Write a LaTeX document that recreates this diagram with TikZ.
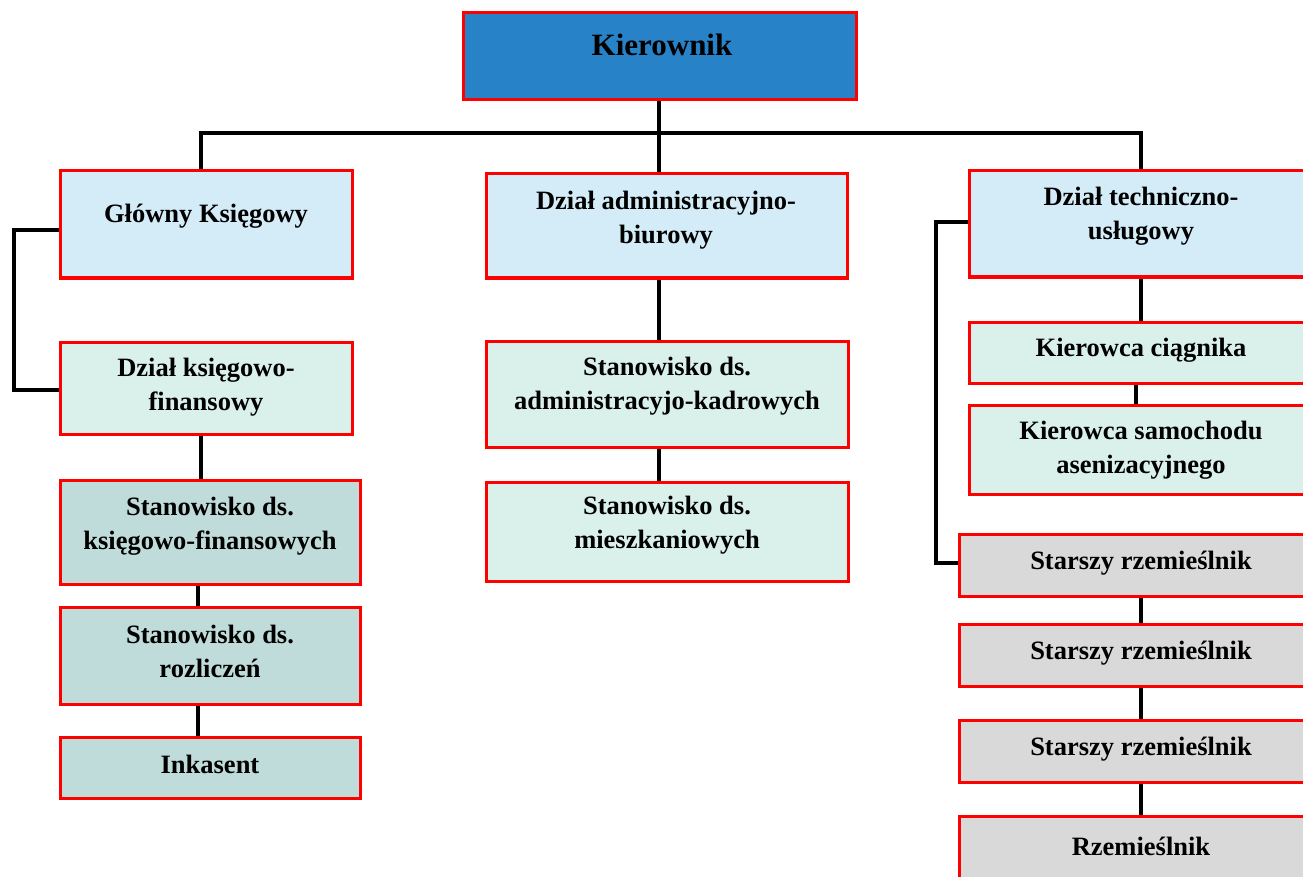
\documentclass[tikz,border=0pt]{standalone}
\usepackage{fontspec}
\setmainfont{Liberation Serif}
\definecolor{kblue}{RGB}{40,130,200}
\definecolor{lblue}{RGB}{212,236,247}
\definecolor{lmint}{RGB}{218,240,234}
\definecolor{lteal}{RGB}{192,220,218}
\definecolor{lgrey}{RGB}{217,217,217}
\tikzset{
  box/.style={draw=red, line width=3pt, rectangle, inner sep=0pt},
  txt/.style={font=\fontsize{26.5}{34}\selectfont\bfseries, align=center, inner sep=0pt},
  conn/.style={draw=black, line width=3.5pt}
}
\newcommand{\mkbox}[6]{%
  \pgfmathsetmacro{\bw}{#4-#2}\pgfmathsetmacro{\bh}{#5-#3}%
  \pgfmathsetmacro{\cx}{(#2+#4)/2}\pgfmathsetmacro{\cy}{(#3+#5)/2}%
  \node[box, fill=#6, minimum width=\bw pt, minimum height=\bh pt] (#1) at (\cx,\cy) {};}
\begin{document}
\begin{tikzpicture}[x=1pt,y=-1pt]
\useasboundingbox (0,0) rectangle (1303,877);
\clip (0,0) rectangle (1303,877);
% boxes
\mkbox{K}{463}{13}{856}{100}{kblue}
\mkbox{GK}{60}{171}{352}{278}{lblue}
\mkbox{DKF}{60}{342}{352}{434}{lmint}
\mkbox{SKF}{60}{480}{360}{584}{lteal}
\mkbox{SR}{60}{607}{360}{704}{lteal}
\mkbox{IN}{60}{737}{360}{798}{lteal}
\mkbox{DAB}{486}{174}{847}{278}{lblue}
\mkbox{SAK}{486}{341}{848}{447}{lmint}
\mkbox{SM}{486}{482}{848}{581}{lmint}
\mkbox{DTU}{969}{171}{1313}{277}{lblue}
\mkbox{KC}{969}{322}{1313}{383}{lmint}
\mkbox{KS}{969}{405}{1313}{494}{lmint}
\mkbox{S1}{959}{534}{1323}{596}{lgrey}
\mkbox{S2}{959}{624}{1323}{686}{lgrey}
\mkbox{S3}{959}{720}{1323}{782}{lgrey}
\mkbox{R}{959}{816}{1323}{890}{lgrey}
% texts
\node[txt, font=\fontsize{31}{36}\selectfont\bfseries] (tK) at (662,45) {Kierownik};
\node[txt] (tGK) at (206,216) {Główny Księgowy};
\node[txt] (tDKF) at (206,387) {Dział księgowo-\\finansowy};
\node[txt] (tSKF) at (210,526) {Stanowisko ds.\\księgowo-finansowych};
\node[txt] (tSR) at (210,651) {Stanowisko ds.\\rozliczeń};
\node[txt] (tIN) at (210,764) {Inkasent};
\node[txt] (tDAB) at (666,220) {Dział administracyjno-\\biurowy};
\node[txt] (tSAK) at (667,386) {Stanowisko ds.\\administracyjo-kadrowych};
\node[txt] (tSM) at (667,525) {Stanowisko ds.\\mieszkaniowych};
\node[txt] (tDTU) at (1141,216) {Dział techniczno-\\usługowy};
\node[txt] (tKC) at (1141,350) {Kierowca ciągnika};
\node[txt] (tKS) at (1141,450) {Kierowca samochodu\\asenizacyjnego};
\node[txt] (tS1) at (1141,563) {Starszy rzemieślnik};
\node[txt] (tS2) at (1141,653) {Starszy rzemieślnik};
\node[txt] (tS3) at (1141,749) {Starszy rzemieślnik};
\node[txt] (tR) at (1141,846) {Rzemieślnik};
% connectors
\coordinate (hub) at (659,133);
\coordinate (lb) at (14,300);
\coordinate (rb) at (936,300);
\draw[conn] ([xshift=-0.5pt]K.south) -- ([xshift=-7.5pt]DAB.north);
\draw[conn] ([xshift=-5pt]GK.north) |- (hub) -| (DTU.north);
\draw[conn] ([yshift=-5.5pt]GK.west) -- ([yshift=-5.5pt]GK.west -| lb) |- ([yshift=-2pt]DKF.west);
\draw[conn] ([xshift=-5pt]DKF.south) -- ([xshift=-5pt]DKF.south |- SKF.north);
\draw[conn] ([xshift=-12pt]SKF.south) -- ([xshift=-12pt]SKF.south |- SR.north);
\draw[conn] ([xshift=-12pt]SR.south) -- ([xshift=-12pt]SR.south |- IN.north);
\draw[conn] ([xshift=-7.5pt]DAB.south) -- ([xshift=-7.5pt]DAB.south |- SAK.north);
\draw[conn] ([xshift=-8pt]SAK.south) -- ([xshift=-8pt]SAK.south |- SM.north);
\draw[conn] (DTU.south) -- (KC.north);
\draw[conn] ([xshift=-5pt]KC.south) -- ([xshift=-5pt]KC.south |- KS.north);
\draw[conn] ([yshift=2pt]DTU.west) -- ([yshift=2pt]DTU.west -| rb) |- ([yshift=2pt]S1.west);
\draw[conn] (S1.south) -- (S2.north);
\draw[conn] (S2.south) -- (S3.north);
\draw[conn] (S3.south) -- (R.north);
\end{tikzpicture}
\end{document}
